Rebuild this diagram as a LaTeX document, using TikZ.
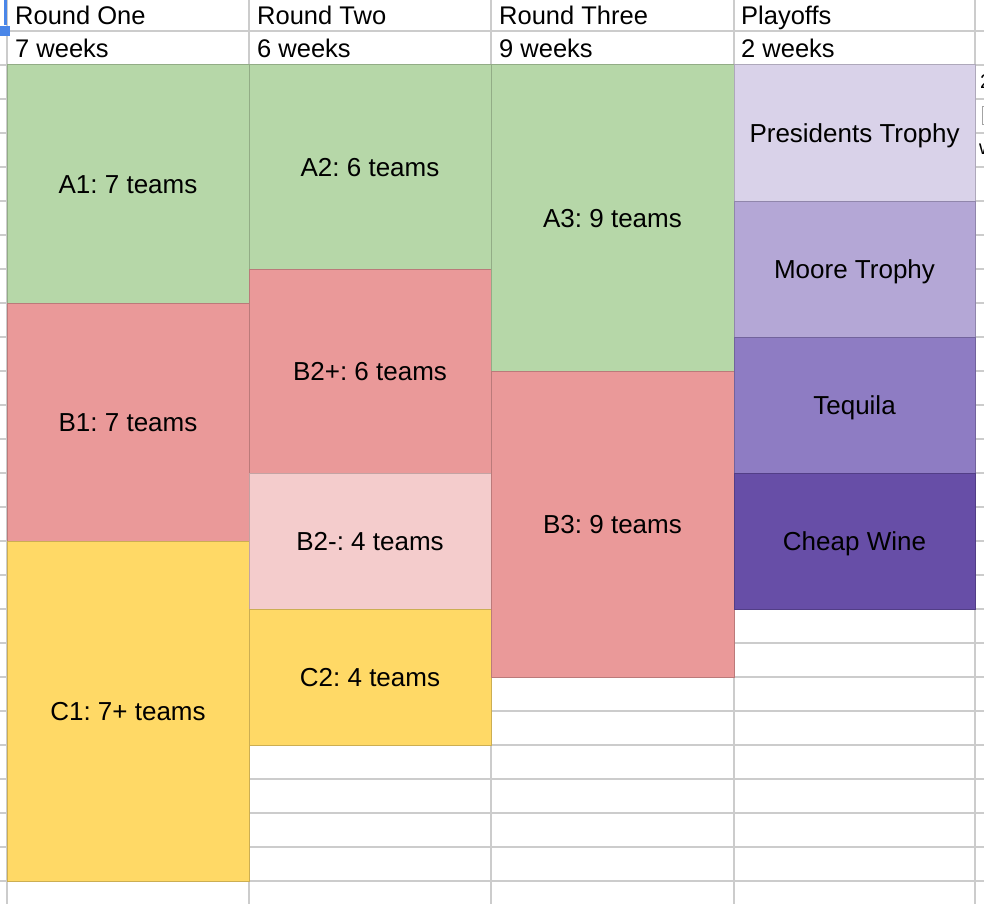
\documentclass[tikz,border=0pt]{standalone}
\usepackage{fontspec}
\setmainfont{Liberation Sans}
\frenchspacing
\definecolor{gA}{HTML}{B6D7A8}
\definecolor{rB}{HTML}{EA9999}
\definecolor{rL}{HTML}{F4CCCC}
\definecolor{yC}{HTML}{FFD966}
\definecolor{pA}{HTML}{D9D2E9}
\definecolor{pB}{HTML}{B4A7D6}
\definecolor{pC}{HTML}{8E7CC3}
\definecolor{pD}{HTML}{674EA7}
\definecolor{gridc}{HTML}{CCCCCC}
\definecolor{selblue}{HTML}{4A86E8}
\begin{document}
\begin{tikzpicture}[x=1pt,y=-1pt,
  gridline/.style={draw=gridc, line width=1.4pt},
  blk/.style={draw=#1!80!black, fill=#1, line width=1pt, inner sep=0pt,
    font=\fontsize{26}{30}\selectfont\frenchspacing, text height=18.6pt, text depth=0pt},
  hdr/.style={anchor=base west, inner sep=0pt, font=\fontsize{25.5}{30}\selectfont}]
\useasboundingbox (0,0) rectangle (984,904);
\fill[white] (0,0) rectangle (984,904);
% grid
\draw[gridline] (0,31) -- (984,31);
\foreach \yy in {65,99,...,881} { \draw[gridline] (0,\yy) -- (984,\yy); }
\foreach \xx in {7,249,491,734,975} { \draw[gridline] (\xx,0) -- (\xx,904); }
% selection marker
\fill[selblue] (3.5,0) rectangle (7.3,25);
\fill[selblue] (0,26) rectangle (10,36);
% clipped fragments on the right edge
\begin{scope}
\clip (976,66) rectangle (984,170);
\node[anchor=base west, inner sep=0pt, font=\fontsize{20}{24}\selectfont] (fr1) at (980,89) {2};
\draw[gridc!80!black, line width=1pt] (982,107) rectangle (995,125);
\node[anchor=base west, inner sep=0pt, font=\fontsize{20}{24}\selectfont] (fr3) at (979,155) {w};
\end{scope}
% headers
\node[hdr] (h1) at (15,24.5) {Round One};
\node[hdr] (h2) at (257,24.5) {Round Two};
\node[hdr] (h3) at (499,24.5) {Round Three};
\node[hdr] (h4) at (741,24.5) {Playoffs};
\node[hdr] (w1) at (15,58) {7 weeks};
\node[hdr] (w2) at (257,58) {6 weeks};
\node[hdr] (w3) at (499,58) {9 weeks};
\node[hdr] (w4) at (741,58) {2 weeks};
% round one
\node[blk=gA, minimum width=242pt, minimum height=238pt] (a1) at (128,184) {A1: 7 teams};
\node[blk=rB, minimum width=242pt, minimum height=238pt] (b1) at (128,422) {B1: 7 teams};
\node[blk=yC, minimum width=242pt, minimum height=340pt] (c1) at (128,711) {C1: 7+ teams};
% round two
\node[blk=gA, minimum width=242pt, minimum height=204pt] (a2) at (370,167) {A2: 6 teams};
\node[blk=rB, minimum width=242pt, minimum height=204pt] (b2p) at (370,371) {B2+: 6 teams};
\node[blk=rL, minimum width=242pt, minimum height=136pt] (b2m) at (370,541) {B2-: 4 teams};
\node[blk=yC, minimum width=242pt, minimum height=136pt] (c2) at (370,677) {C2: 4 teams};
% round three
\node[blk=gA, minimum width=243pt, minimum height=306pt] (a3) at (612.5,218) {A3: 9 teams};
\node[blk=rB, minimum width=243pt, minimum height=306pt] (b3) at (612.5,524) {B3: 9 teams};
% playoffs
\node[blk=pA, minimum width=241pt, minimum height=136pt] (pt) at (854.5,133) {Presidents Trophy};
\node[blk=pB, minimum width=241pt, minimum height=136pt] (mt) at (854.5,269) {Moore Trophy};
\node[blk=pC, minimum width=241pt, minimum height=136pt] (tq) at (854.5,405) {Tequila};
\node[blk=pD, minimum width=241pt, minimum height=136pt] (cw) at (854.5,541) {Cheap Wine};
\end{tikzpicture}
\end{document}
